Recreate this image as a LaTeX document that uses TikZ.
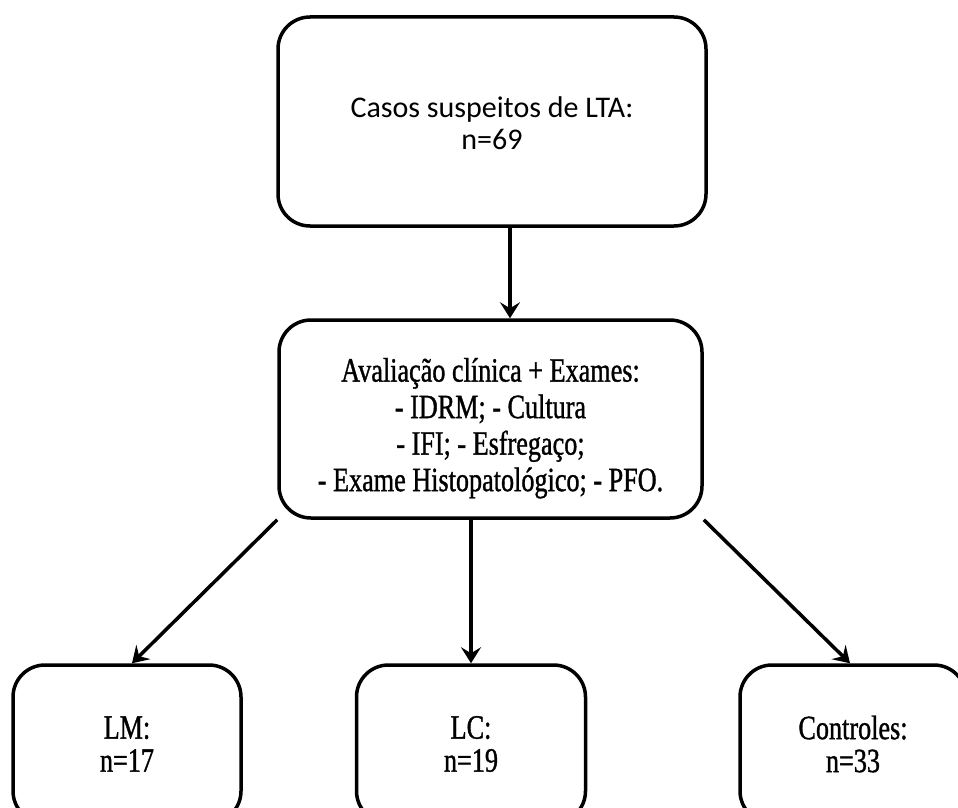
\documentclass[tikz,border=0pt]{standalone}
\usepackage{fontspec}
\setmainfont[FakeStretch=0.77,FakeBold=1.0]{Liberation Serif}
\newfontfamily\calibrifont{Carlito}
\usetikzlibrary{arrows.meta}
\tikzset{
  box/.style={draw, line width=3.5pt, rounded corners=32pt, align=center, inner sep=0pt},
  arr/.style={line width=3.5pt, -{Stealth[length=16pt,width=20pt,inset=6pt]}},
  toptext/.style={font=\calibrifont\fontsize{30}{32}\selectfont},
  midtext/.style={font=\fontsize{34}{36.5}\selectfont},
  lowtext/.style={font=\fontsize{34}{33}\selectfont}
}
\begin{document}
\begin{tikzpicture}[x=1pt,y=-1pt]
\useasboundingbox (0,0) rectangle (958,808);
\clip (0,0) rectangle (958,808);
\node[box, toptext, minimum width=428pt, minimum height=209pt] (top) at (492,121.5) {\rule{0pt}{25pt}Casos suspeitos de LTA:\\n=69};
\node[box, midtext, minimum width=423pt, minimum height=198pt] (mid) at (490.5,419)
  {\rule{0pt}{42pt}Avaliação clínica + Exames:\\- IDRM; - Cultura\\- IFI; - Esfregaço;\\- Exame Histopatológico; - PFO.};
\node[box, lowtext, minimum width=228pt, minimum height=158pt] (lm) at (127,744) {LM:\\n=17};
\node[box, lowtext, minimum width=229pt, minimum height=158pt] (lc) at (471,744) {LC:\\n=19};
\node[box, lowtext, minimum width=226pt, minimum height=158pt] (ctrl) at (853,744) {Controles:\\n=33};
\coordinate (c1) at (510,0);
\draw[arr] (c1 |- top.south) -- (c1 |- mid.north);
\draw[arr] (mid.south west) -- ([xshift=5pt]lm.north);
\draw[arr] (lc.north |- mid.south) -- (lc.north);
\draw[arr] (mid.south east) -- ([xshift=-3pt]ctrl.north);
\end{tikzpicture}
\end{document}
